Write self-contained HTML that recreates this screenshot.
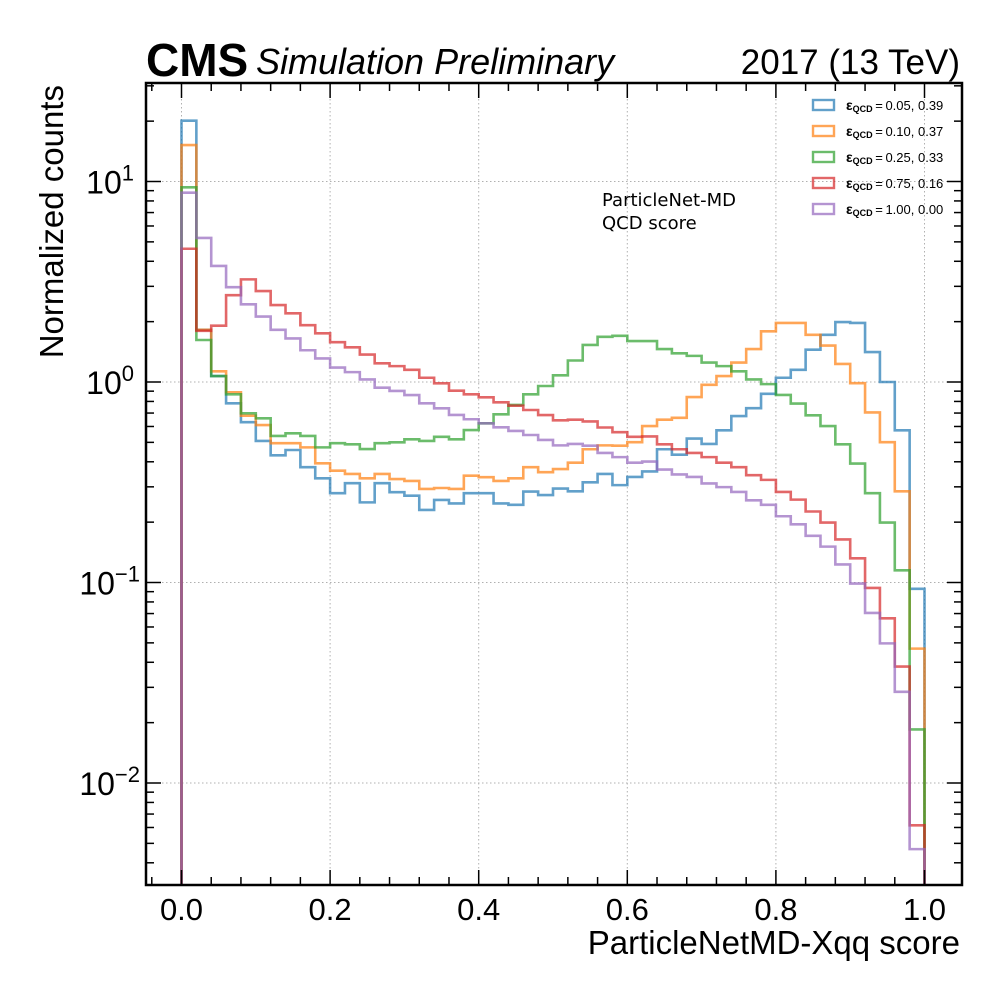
<!DOCTYPE html>
<html><head><meta charset="utf-8"><style>
body{margin:0;background:#fff}
svg{display:block;font-family:"Liberation Sans",sans-serif}
</style></head><body>
<svg id="chart" width="1000" height="1000" viewBox="0 0 1000 1000">
<rect width="1000" height="1000" fill="#fff"/>
<g id="grid"></g>
<g id="series"></g>
<g id="axes"></g>
<text x="146" y="76" font-size="46" font-weight="bold">CMS</text>
<text x="256" y="74" font-size="36" font-style="italic">Simulation Preliminary</text>
<text x="960" y="74" font-size="35" text-anchor="end">2017 (13 TeV)</text>
<text transform="translate(63,85) rotate(-90)" font-size="33" text-anchor="end">Normalized counts</text>
<text x="960" y="954" font-size="33" text-anchor="end">ParticleNetMD-Xqq score</text>
<text x="602" y="206" font-size="18" font-family="DejaVu Sans, sans-serif">ParticleNet-MD</text>
<text x="602" y="229" font-size="18" font-family="DejaVu Sans, sans-serif">QCD score</text>
<g id="legend"></g>
</svg>
<script>
const blue=[20.1,1.82,1.07,0.783,0.630,0.508,0.431,0.458,0.376,0.331,0.279,0.313,0.251,0.313,0.282,0.271,0.230,0.258,0.248,0.279,0.279,0.248,0.244,0.284,0.273,0.294,0.285,0.316,0.348,0.306,0.336,0.358,0.462,0.434,0.522,0.491,0.574,0.676,0.740,0.873,1.05,1.15,1.45,1.72,1.99,1.97,1.41,1.00,0.574,0.093];
const orange=[15.2,1.82,1.13,0.889,0.679,0.610,0.495,0.495,0.472,0.393,0.361,0.348,0.331,0.348,0.328,0.321,0.293,0.296,0.293,0.341,0.335,0.321,0.331,0.376,0.355,0.368,0.396,0.462,0.483,0.481,0.501,0.603,0.649,0.663,0.841,0.968,1.07,1.25,1.46,1.79,1.97,1.97,1.72,1.52,1.23,0.987,0.705,0.501,0.285,0.0468];
const green=[9.35,1.62,1.07,0.868,0.698,0.659,0.538,0.555,0.538,0.472,0.495,0.489,0.463,0.495,0.500,0.518,0.508,0.533,0.518,0.576,0.622,0.690,0.768,0.868,0.955,1.08,1.28,1.53,1.68,1.70,1.60,1.60,1.46,1.39,1.35,1.25,1.20,1.13,1.03,0.976,0.862,0.781,0.682,0.603,0.489,0.392,0.279,0.199,0.115,0.0185];
const red=[4.62,1.80,1.91,2.71,3.25,2.84,2.42,2.20,1.92,1.75,1.58,1.49,1.37,1.24,1.20,1.15,1.05,0.985,0.905,0.868,0.839,0.792,0.762,0.725,0.684,0.644,0.649,0.636,0.593,0.562,0.533,0.535,0.489,0.462,0.443,0.422,0.396,0.376,0.343,0.325,0.283,0.259,0.226,0.199,0.164,0.132,0.094,0.0663,0.0381,0.00615];
const purple=[8.79,5.23,3.79,2.97,2.44,2.12,1.82,1.65,1.44,1.31,1.18,1.12,1.03,0.937,0.902,0.861,0.783,0.739,0.685,0.652,0.622,0.594,0.570,0.544,0.514,0.483,0.491,0.481,0.443,0.422,0.396,0.401,0.366,0.346,0.336,0.312,0.299,0.283,0.257,0.244,0.214,0.195,0.171,0.151,0.123,0.0988,0.0705,0.0497,0.0285,0.00468];
const legendLabels=["0.05, 0.39","0.10, 0.37","0.25, 0.33","0.75, 0.16","1.00, 0.00"];
const xTicks=["0.0","0.2","0.4","0.6","0.8","1.0"];
const yTickExps=[1,0,-1,-2];

const NS="http://www.w3.org/2000/svg";
const L=146,R=962,T=83,B=885;
const X0=181.5,XW=743;
const Y0=382,DEC=200.5;
function xs(v){return X0+v*XW;}
function ys(v){return Y0-Math.log10(v)*DEC;}
function mk(tag,attrs,parent){const e=document.createElementNS(NS,tag);for(const k in attrs)e.setAttribute(k,attrs[k]);parent.appendChild(e);return e;}
const grid=document.getElementById('grid'),axes=document.getElementById('axes'),ser=document.getElementById('series'),leg=document.getElementById('legend');

xTicks.forEach((t,i)=>{const x=xs(+t);const g=mk('line',{x1:x,x2:x,y1:T,y2:B,stroke:'#b0b0b0','stroke-width':1,'stroke-dasharray':'1.5,2.5'},grid);

});
yTickExps.forEach(e=>{const y=ys(Math.pow(10,e));const g=mk('line',{x1:L,x2:R,y1:y,y2:y,stroke:'#b0b0b0','stroke-width':1,'stroke-dasharray':'1.5,2.5'},grid);

});

const allSeries=[blue,orange,green,red,purple];
const colors=['#1f77b4','#ff7f0e','#2ca02c','#d62728','#9467bd'];
const names=['series-eff-0.05','series-eff-0.10','series-eff-0.25','series-eff-0.75','series-eff-1.00'];
allSeries.forEach((s,k)=>{
 const n=s.length,w=1/n;let d='M'+xs(0)+','+(B+5);
 s.forEach((v,i)=>{const y=ys(v);d+=' L'+xs(i*w)+','+y+' L'+xs((i+1)*w)+','+y;});
 d+=' L'+xs(1)+','+(B+5);
 const p=mk('path',{d:d,fill:'none',stroke:colors[k],'stroke-width':2.6,'stroke-opacity':0.7,'stroke-linejoin':'miter'},ser);
 
 
});
mk('rect',{x:0,y:B+1,width:1000,height:20,fill:'#fff'},ser);

const fr=mk('rect',{x:L,y:T,width:R-L,height:B-T,fill:'none',stroke:'#000','stroke-width':2.5},axes);


for(let i=0;i<=26;i++){const v=-0.04+i*0.04;const x=xs(v);if(x<L||x>R)continue;
 const major=Math.abs(v*5-Math.round(v*5))<1e-6;const len=major?15:8;
 const a=mk('line',{x1:x,x2:x,y1:B,y2:B-len,stroke:'#000','stroke-width':1.5},axes);
 
 
 const b=mk('line',{x1:x,x2:x,y1:T,y2:T+len,stroke:'#000','stroke-width':1.5},axes);
 
 }
xTicks.forEach(t=>{const tx=mk('text',{x:xs(+t),y:920,'font-size':31,'text-anchor':'middle'},axes);tx.textContent=t;
 
 });
for(let e=-3;e<=1;e++){for(let m=1;m<10;m++){const v=m*Math.pow(10,e);const y=ys(v);if(y<T||y>B)continue;const len=m==1?15:8;
 const a=mk('line',{x1:L,x2:L+len,y1:y,y2:y,stroke:'#000','stroke-width':1.5},axes);
 
 
 const b=mk('line',{x1:R,x2:R-len,y1:y,y2:y,stroke:'#000','stroke-width':1.5},axes);
 
 }}
yTickExps.forEach(e=>{const y=ys(Math.pow(10,e));
 const tx=mk('text',{x:e<0?140:134,y:y+12,'font-size':32,'text-anchor':'end'},axes);
 
 
 const t1=document.createElementNS(NS,'tspan');t1.textContent='10';tx.appendChild(t1);
 const t2=document.createElementNS(NS,'tspan');t2.setAttribute('dy',-13);t2.setAttribute('font-size',22);t2.textContent=e<0?'\u2212'+(-e):String(e);tx.appendChild(t2);});

legendLabels.forEach((lab,k)=>{const y=105+k*26;
 const r=mk('rect',{x:813,y:y-5,width:21,height:10,fill:'none',stroke:colors[k],'stroke-opacity':0.7,'stroke-width':2.4},leg);
 
 
 const t=mk('text',{x:846,y:y+5,'font-size':13},leg);
 
 
 const a=document.createElementNS(NS,'tspan');a.setAttribute('font-weight','bold');a.setAttribute('font-size',14);a.textContent='\u03b5';t.appendChild(a);
 const b=document.createElementNS(NS,'tspan');b.setAttribute('font-weight','bold');b.setAttribute('font-size',9);b.setAttribute('dy',2);b.textContent='QCD';t.appendChild(b);
 const c=document.createElementNS(NS,'tspan');c.setAttribute('dy',-2);c.textContent='\u2009=\u2009' + lab;t.appendChild(c);
});
</script>
</body></html>
